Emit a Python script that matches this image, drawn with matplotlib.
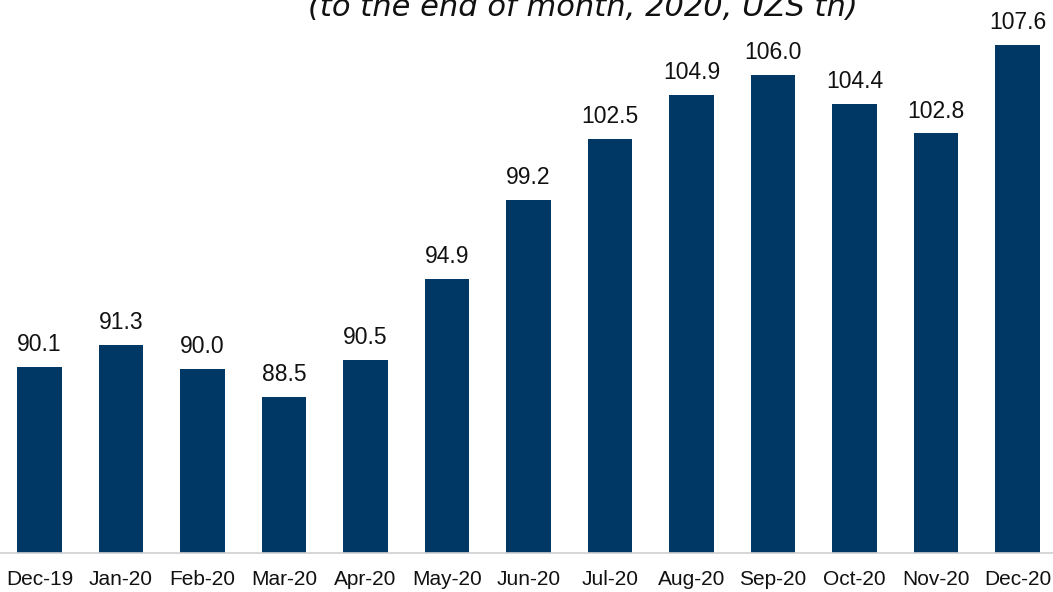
import matplotlib
matplotlib.use("Agg")
import matplotlib.pyplot as plt
import numpy as np

months = ["Dec-19", "Jan-20", "Feb-20", "Mar-20", "Apr-20", "May-20", "Jun-20",
          "Jul-20", "Aug-20", "Sep-20", "Oct-20", "Nov-20", "Dec-20"]
values = [90.1, 91.3, 90.0, 88.5, 90.5, 94.9, 99.2, 102.5, 104.9, 106.0, 104.4, 102.8, 107.6]

BAR_COLOR = "#003865"
TEXT_COLOR = "#111111"

plt.rcParams["font.family"] = ["Liberation Sans", "DejaVu Sans"]

fig = plt.figure(figsize=(10.53, 5.92), dpi=100)
ax = fig.add_axes([0, 39 / 592, 1, 553 / 592])

x = np.arange(len(months))
ax.bar(x, values, width=0.55, color=BAR_COLOR, zorder=2)
for xi, v in zip(x, values):
    ax.annotate(f"{v:.1f}", (xi, v), xytext=(0, 11.5), textcoords="offset points",
                ha="center", va="baseline", fontsize=16.5, color=TEXT_COLOR)

ax.set_ylim(80, 80 + 553 / 18.4)
ax.set_xlim(-0.485, 12.435)
ax.set_xticks(x, months)
ax.tick_params(axis="x", length=0, pad=12, labelsize=15, labelcolor=TEXT_COLOR)
ax.set_yticks([])
for side in ("top", "right", "left"):
    ax.spines[side].set_visible(False)
ax.spines["bottom"].set_color("#d0d0d0")
ax.spines["bottom"].set_linewidth(1.2)

# subtitle sits partly above the canvas edge
fig.text(0.554, 1 - 16 / 592, "(to the end of month, 2020, UZS th)",
         ha="center", va="baseline", fontsize=22, style="italic",
         family="DejaVu Sans", color=TEXT_COLOR)

fig.savefig("out.png", dpi=100)
